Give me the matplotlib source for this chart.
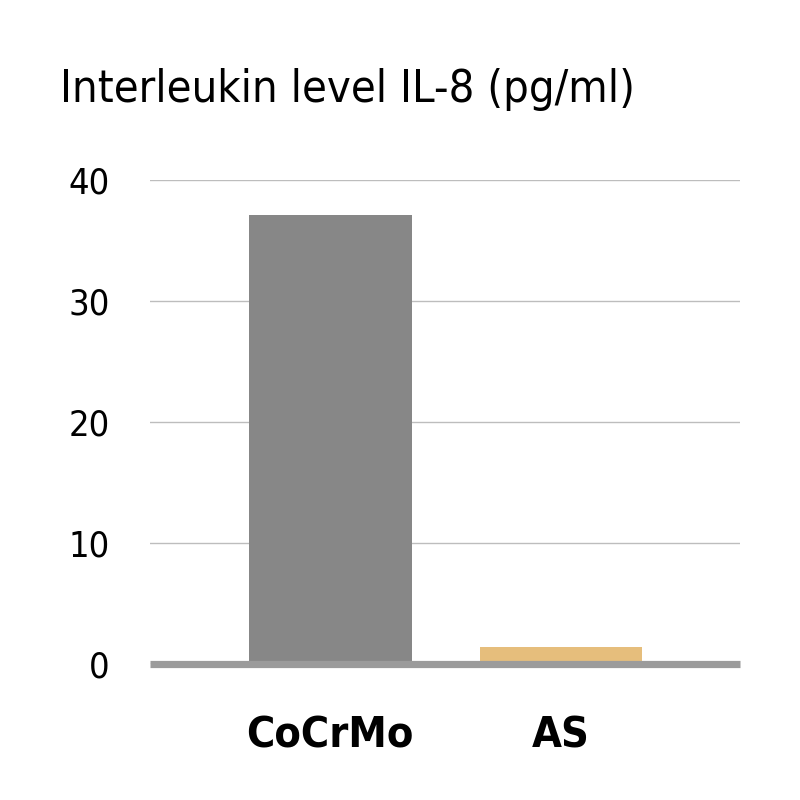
import matplotlib
matplotlib.use('Agg')
import matplotlib.pyplot as plt

# data
categories = ['CoCrMo', 'AS']
il8_values = [37.1, 1.4]
bar_colors = ['#878787', '#E6BE7C']
y_ticks = [0, 10, 20, 30, 40]

plt.rcParams['font.family'] = ['DejaVu Sans']
plt.rcParams['font.stretch'] = 'condensed'

fig = plt.figure(figsize=(8, 8), dpi=100)
ax = fig.add_axes([0.1875, 0.17, 0.7375, 0.605])

x = range(len(categories))
ax.bar(x, il8_values, width=0.705, color=bar_colors, zorder=2)

# thick baseline at zero
ax.axhline(0, color='#9B9B9B', lw=5.2, zorder=3, solid_capstyle='butt', clip_on=False)

ax.set_ylim(0, 40)
ax.set_xlim(-0.78, 1.775)
ax.set_yticks(y_ticks)
ax.set_yticklabels([str(t) for t in y_ticks], fontsize=26)
ax.set_xticks(list(x))
ax.set_xticklabels(categories, fontsize=31, fontweight='bold')
ax.tick_params(axis='both', length=0)
ax.tick_params(axis='y', pad=29)
ax.tick_params(axis='x', pad=36)

ax.grid(axis='y', color='#BDBDBD', lw=1.0, zorder=1)
for s in ax.spines.values():
    s.set_visible(False)

fig.text(0.075, 0.873, 'Interleukin level IL-8 (pg/ml)', fontsize=32.5,
         ha='left', va='baseline')

fig.savefig('out.png', dpi=100, facecolor='white')
